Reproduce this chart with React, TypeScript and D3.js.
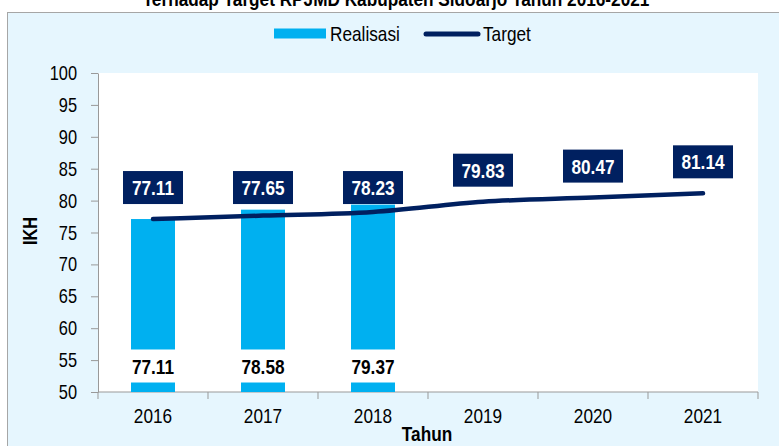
import React, { useEffect, useRef } from 'react';
import * as d3 from 'd3';

const years = ['2016', '2017', '2018', '2019', '2020', '2021'];
const realisasi = [77.11, 78.58, 79.37];
const target = [77.11, 77.65, 78.23, 79.83, 80.47, 81.14];
const yTicks = [50, 55, 60, 65, 70, 75, 80, 85, 90, 95, 100];

const FONT = '"Liberation Sans", Arial, sans-serif';
const BLUE = '#00B0F0';
const NAVY = '#002060';
const NARROW = 0.82; // no narrow font installed, squeeze horizontally

type Sel = d3.Selection<any, any, any, any>;

// condensed text: group at (x, y) squeezed on x
const narrowText = (parent: Sel, x: number, y: number, txt: string, size: number,
  opts: { anchor?: string; bold?: boolean; fill?: string } = {}) => {
  const t = parent.append('g')
    .attr('transform', `translate(${x}, ${y}) scale(${NARROW}, 1)`)
    .append('text')
    .attr('text-anchor', opts.anchor || 'start')
    .attr('font-family', FONT)
    .attr('font-size', `${size}px`)
    .attr('fill', opts.fill || '#000')
    .text(txt);
  if (opts.bold) t.attr('font-weight', 'bold');
  return t;
};

const App = () => {
  const ref = useRef<SVGSVGElement | null>(null);

  useEffect(() => {
    const svg = d3.select(ref.current);
    svg.selectAll('*').remove();

    const margin = { left: 98, top: 73, right: 21, bottom: 54 };
    const width = 779 - margin.left - margin.right;
    const height = 446 - margin.top - margin.bottom;

    // outer panel
    svg.append('rect')
      .attr('x', 7.5).attr('y', 12.5)
      .attr('width', 790).attr('height', 460)
      .attr('fill', '#E6F6FE')
      .attr('stroke', '#A6A6A6');

    // title, cut at the top like the source
    narrowText(svg, 396, 6, 'Terhadap Target RPJMD Kabupaten Sidoarjo Tahun 2016-2021', 21,
      { anchor: 'middle', bold: true });

    // legend
    svg.append('rect').attr('x', 274).attr('y', 28.5).attr('width', 52).attr('height', 10).attr('fill', BLUE);
    narrowText(svg, 330, 41, 'Realisasi', 21);
    svg.append('line').attr('x1', 426).attr('x2', 478).attr('y1', 34).attr('y2', 34)
      .attr('stroke', NAVY).attr('stroke-width', 5).attr('stroke-linecap', 'round');
    narrowText(svg, 483, 41, 'Target', 21);

    const g = svg.append('g').attr('transform', `translate(${margin.left}, ${margin.top})`);

    g.append('rect').attr('width', width).attr('height', height).attr('fill', '#fff');

    const x = d3.scaleBand().domain(years).range([0, width]);
    const y = d3.scaleLinear().domain([50, 100]).range([height, 0]);
    const cx = (d: string) => (x(d) as number) + x.bandwidth() / 2;

    // y axis
    const yAxis = g.append('g')
      .call(d3.axisLeft(y).tickValues(yTicks).tickSize(7).tickFormat(() => '').tickSizeOuter(0));
    yAxis.select('.domain').attr('stroke', '#999');
    yAxis.selectAll('.tick line').attr('stroke', '#999');
    yTicks.forEach(v => narrowText(g, -21, y(v) + 7, String(v), 20, { anchor: 'end' }));

    // x axis with ticks between categories
    const xAxisG = g.append('g').attr('transform', `translate(0, ${height})`);
    xAxisG.append('line').attr('x1', 0).attr('x2', width).attr('stroke', '#999');
    xAxisG.selectAll('.sep')
      .data(d3.range(years.length + 1))
      .enter().append('line')
      .attr('x1', i => i * x.step()).attr('x2', i => i * x.step())
      .attr('y1', 0).attr('y2', 7).attr('stroke', '#999');
    years.forEach(d => narrowText(xAxisG, cx(d), 31, d, 21, { anchor: 'middle' }));

    // bars
    const barW = x.bandwidth() * 0.4;
    g.selectAll('.bar')
      .data(realisasi)
      .enter().append('rect')
      .attr('x', (d, i) => cx(years[i]) - barW / 2)
      .attr('y', d => y(d))
      .attr('width', barW)
      .attr('height', d => height - y(d))
      .attr('fill', BLUE);

    // bar labels near base (white boxes)
    realisasi.forEach((d, i) => {
      const ly = height - 26;
      g.append('rect').attr('x', cx(years[i]) - 30).attr('y', ly - 16.5)
        .attr('width', 60).attr('height', 33).attr('fill', '#fff');
      narrowText(g, cx(years[i]), ly + 7.5, d.toFixed(2), 21, { anchor: 'middle', bold: true });
    });

    // target line
    const line = d3.line<number>()
      .x((d, i) => cx(years[i]))
      .y(d => y(d))
      .curve(d3.curveMonotoneX);
    g.append('path')
      .datum(target)
      .attr('d', line)
      .attr('fill', 'none')
      .attr('stroke', NAVY)
      .attr('stroke-width', 4.5)
      .attr('stroke-linecap', 'round');

    // target labels: a shared row above the bars, else just over the line
    target.forEach((d, i) => {
      const ly = i < realisasi.length ? y(target[0]) - 31.5 : y(d) - 31.5;
      g.append('rect').attr('x', cx(years[i]) - 30).attr('y', ly - 16.5)
        .attr('width', 60).attr('height', 33).attr('fill', NAVY);
      narrowText(g, cx(years[i]), ly + 7.5, d.toFixed(2), 21, { anchor: 'middle', bold: true, fill: '#fff' });
    });

    // axis titles
    svg.append('text')
      .attr('transform', 'translate(37, 231) rotate(-90) scale(0.82, 1)')
      .attr('text-anchor', 'middle')
      .attr('font-family', FONT).attr('font-weight', 'bold').attr('font-size', '20px')
      .text('IKH');
    narrowText(svg, 427, 441, 'Tahun', 21, { anchor: 'middle', bold: true });
  }, []);

  return (
    <svg ref={ref} width={779} height={446}
      style={{ position: 'absolute', left: 0, top: 0, display: 'block' }} />
  );
};

export default App;
